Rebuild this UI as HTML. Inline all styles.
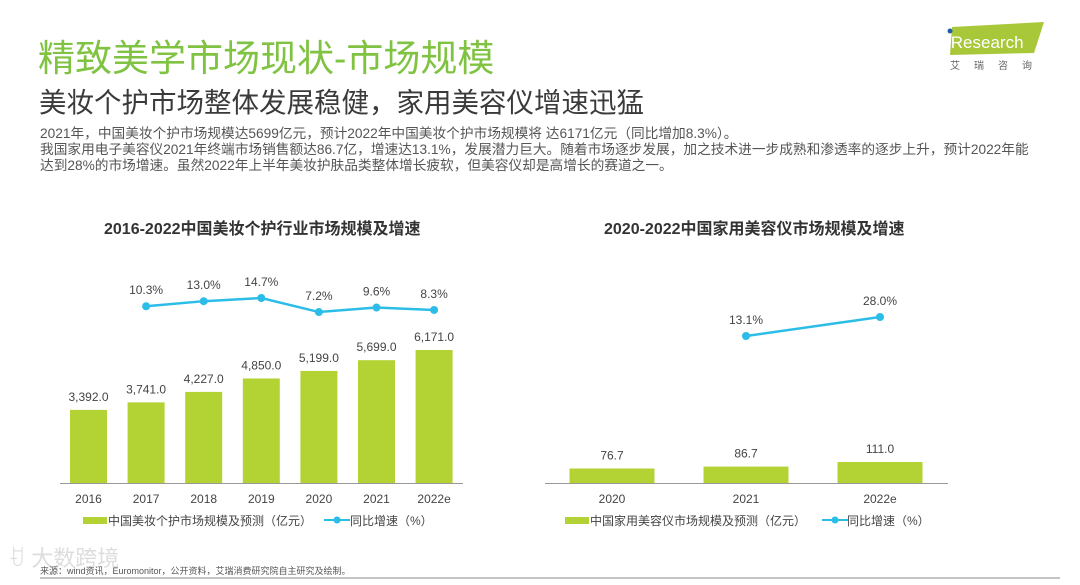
<!DOCTYPE html>
<html><head><meta charset="utf-8"><style>
body{margin:0;background:#fff;width:1080px;height:580px;overflow:hidden}
svg text{font-family:"Liberation Sans","Noto Sans CJK SC",sans-serif}
</style></head><body>
<svg id="s" width="1080" height="580" viewBox="0 0 1080 580" xmlns="http://www.w3.org/2000/svg">
<text x="38" y="71" font-size="37" fill="#80c342">精致美学市场现状-市场规模</text>
<text x="39" y="112" font-size="27.5" fill="#3a3a3a">美妆个护市场整体发展稳健，家用美容仪增速迅猛</text>
<g font-size="13.7" fill="#555">
<text x="40" y="138">2021年，中国美妆个护市场规模达5699亿元，预计2022年中国美妆个护市场规模将 达6171亿元（同比增加8.3%）。</text>
<text x="40" y="154">我国家用电子美容仪2021年终端市场销售额达86.7亿，增速达13.1%，发展潜力巨大。随着市场逐步发展，加之技术进一步成熟和渗透率的逐步上升，预计2022年能</text>
<text x="40" y="170">达到28%的市场增速。虽然2022年上半年美妆护肤品类整体增长疲软，但美容仪却是高增长的赛道之一。</text>
</g>
<g>
<polygon points="952,27 1044,22 1034,53 950,55" fill="#a8c83a"/>
<circle cx="950" cy="31" r="2.5" fill="#1f5fa8"/>
<text x="947" y="48" font-size="17" fill="#fff">iResearch</text>
<text x="950" y="69" font-size="10" fill="#666" letter-spacing="14">艾瑞咨询</text>
</g>
<text x="104" y="234" font-size="16" font-weight="bold" fill="#333">2016-2022中国美妆个护行业市场规模及增速</text>
<text x="604" y="234" font-size="16" font-weight="bold" fill="#333">2020-2022中国家用美容仪市场规模及增速</text>
<g id="left"></g><g id="right"></g>
<g font-size="12" fill="#444">
<rect x="83" y="517" width="24" height="7" fill="#b3d234"/>
<text x="108" y="525">中国美妆个护市场规模及预测（亿元）</text>
<line x1="324" y1="520" x2="350" y2="520" stroke="#2bbde8" stroke-width="2"/><circle cx="337" cy="520" r="3.5" fill="#2bbde8"/>
<text x="350" y="525">同比增速（%）</text>
<rect x="565" y="517" width="24" height="7" fill="#b3d234"/>
<text x="590" y="525">中国家用美容仪市场规模及预测（亿元）</text>
<line x1="822" y1="520" x2="848" y2="520" stroke="#2bbde8" stroke-width="2"/><circle cx="835" cy="520" r="3.5" fill="#2bbde8"/>
<text x="847" y="525">同比增速（%）</text>
</g>
<text x="8" y="566" font-size="22" fill="#ddd">ꀀ 大数跨境</text>
<text x="40" y="574" font-size="9" fill="#555">来源：wind资讯，Euromonitor，公开资料，艾瑞消费研究院自主研究及绘制。</text>
<line x1="40" y1="578" x2="1060" y2="578" stroke="#888" stroke-width="1"/>
</svg>
<script>
const leftCats=["2016","2017","2018","2019","2020","2021","2022e"];
const leftSize=[3392.0,3741.0,4227.0,4850.0,5199.0,5699.0,6171.0];
const leftGrowth=[null,10.3,13.0,14.7,7.2,9.6,8.3];
const rightCats=["2020","2021","2022e"];
const rightSize=[76.7,86.7,111.0];
const rightGrowth=[null,13.1,28.0];
const NS="http://www.w3.org/2000/svg";
function mk(p,t,a,txt){const e=document.createElementNS(NS,t);for(const k in a)e.setAttribute(k,a[k]);if(txt!=null)e.textContent=txt;p.appendChild(e);return e;}
function fmt(v){return v.toLocaleString("en-US",{minimumFractionDigits:1,maximumFractionDigits:1});}
function draw(g,cats,size,growth,o){
  const base=483;
  const x=i=>o.x0+i*o.step;
  const yb=v=>base-v*o.bs;
  const yl=v=>o.l0-v*o.ls;
  const ax=mk(g,"line",{x1:o.ax1,x2:o.ax2,y1:base+0.5,y2:base+0.5,stroke:"#999","stroke-width":1});
  
  
  cats.forEach((c,i)=>{
    const r=mk(g,"rect",{x:x(i)-o.bw/2,y:yb(size[i]),width:o.bw,height:base-yb(size[i]),fill:"#b3d234"});
    
    
    const t=mk(g,"text",{x:x(i),y:yb(size[i])-9,"text-anchor":"middle","font-size":12,fill:"#444"},fmt(size[i]));
    
    
    const l=mk(g,"text",{x:x(i),y:503,"text-anchor":"middle","font-size":12,fill:"#444"},c);
    
    
  });
  const pts=[];growth.forEach((v,i)=>{if(v!=null)pts.push([x(i),yl(v),v,cats[i]]);});
  const pl=mk(g,"polyline",{points:pts.map(p=>p[0]+","+p[1]).join(" "),fill:"none",stroke:"#2bbde8","stroke-width":2.5});
  
  
  pts.forEach(p=>{
    const c=mk(g,"circle",{cx:p[0],cy:p[1],r:4,fill:"#2bbde8"});
    
    
    const t=mk(g,"text",{x:p[0],y:p[1]-12,"text-anchor":"middle","font-size":12,fill:"#444"},p[2].toFixed(1)+"%");
    
    
  });
}
draw(document.getElementById("left"),leftCats,leftSize,leftGrowth,{x0:88.5,step:57.6,bw:37,bs:133/6171,l0:325.5,ls:1.87,ax1:60,ax2:463});
draw(document.getElementById("right"),rightCats,rightSize,rightGrowth,{x0:612,step:134,bw:85,bs:21/111,l0:352.7,ls:1.275,ax1:545,ax2:948});
</script>
</body></html>
